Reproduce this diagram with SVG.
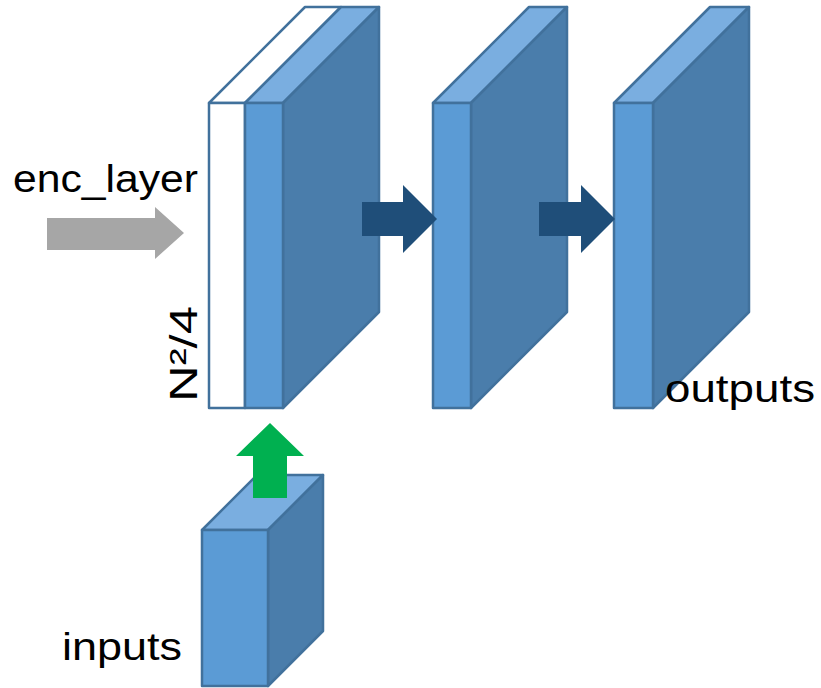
<svg xmlns="http://www.w3.org/2000/svg" width="821" height="688" viewBox="0 0 821 688">
  <style>
    .front { fill: #5b9bd5; stroke: #41719c; stroke-width: 2.5; stroke-linejoin: round; }
    .blank { fill: #ffffff; stroke: #41719c; stroke-width: 2.5; stroke-linejoin: round; }
    .top { fill: #7aaee0; stroke: #41719c; stroke-width: 2.5; stroke-linejoin: round; }
    .side { fill: #4a7dab; stroke: #41719c; stroke-width: 2.5; stroke-linejoin: round; }
    .lbl { font-family: "Liberation Sans", "Open Sans", sans-serif; font-size: 38px; fill: #000000; }
  </style>

  <!-- first layer: empty slot (white) stacked with a blue slab -->
  <g id="layer1">
    <polygon class="blank" points="209,103 305,7 341,7 245,103"/>
    <rect class="blank" x="209" y="103" width="36" height="305"/>
    <polygon class="top" points="245,103 341,7 379,7 283,103"/>
    <polygon class="side" points="283,103 379,7 379,312 283,408"/>
    <rect class="front" x="245" y="103" width="38" height="305"/>
  </g>

  <g id="layer2">
    <polygon class="top" points="433,103 529,7 567,7 471,103"/>
    <polygon class="side" points="471,103 567,7 567,312 471,408"/>
    <rect class="front" x="433" y="103" width="38" height="305"/>
  </g>

  <g id="layer3">
    <polygon class="top" points="614,103 710,7 749,7 653,103"/>
    <polygon class="side" points="653,103 749,7 749,312 653,408"/>
    <rect class="front" x="614" y="103" width="39" height="305"/>
  </g>

  <g id="inputs">
    <polygon class="top" points="202,530 257,475 323,475 268,530"/>
    <polygon class="side" points="268,530 323,475 323,631 268,686"/>
    <rect class="front" x="202" y="530" width="66" height="156"/>
  </g>

  <!-- block arrows between the layers -->
  <g id="connectors">
    <polygon fill="#a6a6a6" points="47,218 155,218 155,207 184,233 155,259 155,250 47,250"/>
    <polygon fill="#1f4e79" points="362,202 403,202 403,185 437,219 403,253 403,236 362,236"/>
    <polygon fill="#1f4e79" points="539,202 581,202 581,185 615,219 581,253 581,236 539,236"/>
    <polygon fill="#00b050" points="253,498 253,456 236,456 270,423 304,456 287,456 287,498"/>
  </g>

  <g id="labels">
    <text class="lbl" x="13" y="192" textLength="185" lengthAdjust="spacingAndGlyphs">enc_layer</text>
    <text class="lbl" x="665" y="402" textLength="150" lengthAdjust="spacingAndGlyphs">outputs</text>
    <text class="lbl" x="62" y="660" textLength="120" lengthAdjust="spacingAndGlyphs">inputs</text>
    <text class="lbl" transform="translate(197,402) rotate(-90)" textLength="96" lengthAdjust="spacingAndGlyphs">N²/4</text>
  </g>
</svg>
